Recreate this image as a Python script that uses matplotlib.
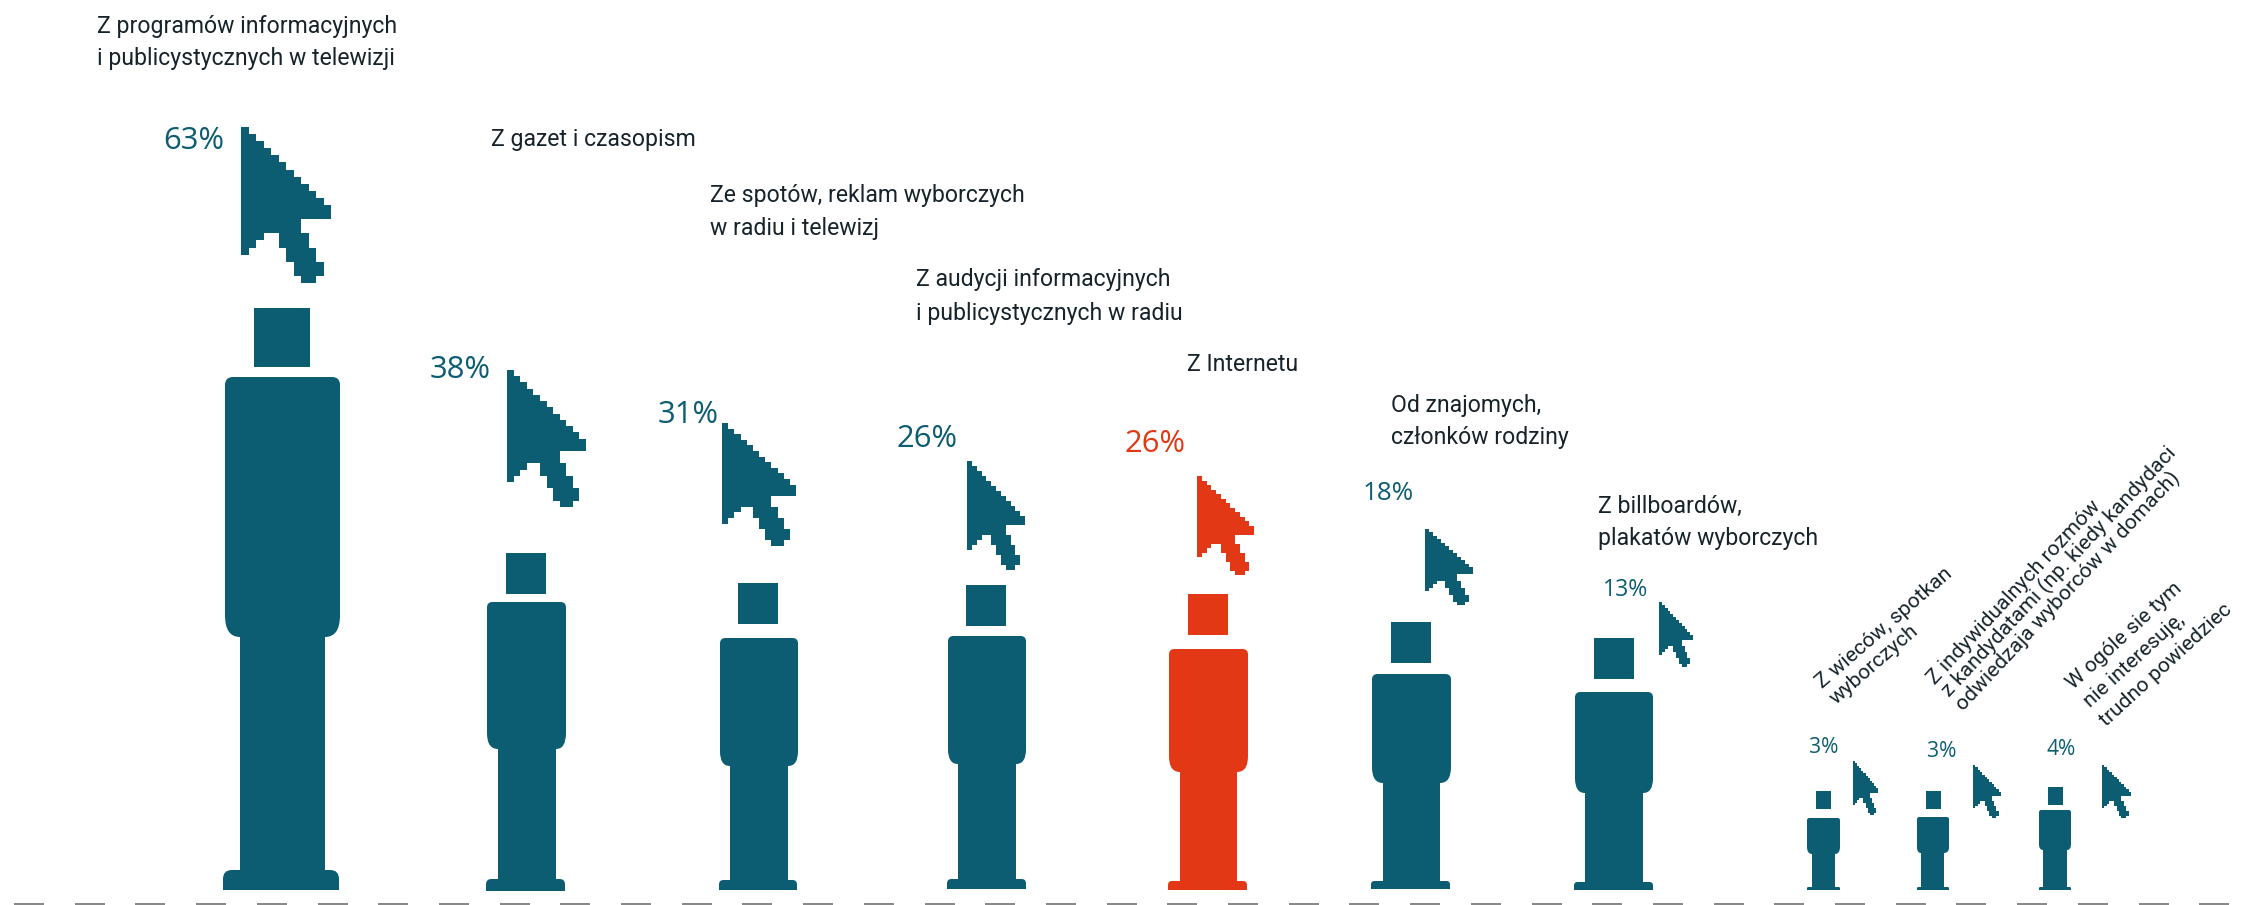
import numpy as np
import matplotlib
matplotlib.use("Agg")
import matplotlib.pyplot as plt
from matplotlib.path import Path
from matplotlib.patches import PathPatch, Rectangle

BLUE = "#0c5c72"
RED = "#e23815"
INK = "#16232b"

# wartosci z wykresu
sources = [
    "Z programów informacyjnych\ni publicystycznych w telewizji",
    "Z gazet i czasopism",
    "Ze spotów, reklam wyborczych\nw radiu i telewizj",
    "Z audycji informacyjnych\ni publicystycznych w radiu",
    "Z Internetu",
    "Od znajomych,\nczłonków rodziny",
    "Z billboardów,\nplakatów wyborczych",
    "Z wieców, spotkan\nwyborczych",
    "Z indywidualnych rozmów\nz kandydatami (np. kiedy kandydaci\nodwiedzaja wyborców w domach)",
    "W ogóle sie tym\nnie interesuję,\ntrudno powiedziec",
]
values = [63, 38, 31, 26, 26, 18, 13, 3, 3, 4]

# uklad sylwetek, w pikselach obrazka
head_x = [(254, 310), (506, 546), (738, 778), (966, 1006), (1188, 1228), (1391, 1431), (1594, 1634), (1816, 1831), (1926, 1941), (2048, 2063)]
head_y = [(308, 367), (553, 594), (583, 624), (585, 626), (594, 635), (622, 663), (638, 679), (791, 809), (791, 809), (787, 805)]
torso_x = [(225, 340), (487, 566), (720, 798), (948, 1026), (1169, 1248), (1372, 1451), (1575, 1653), (1807, 1840), (1917, 1949), (2039, 2071)]
torso_y = [(377, 637), (602, 749), (638, 766), (636, 764), (649, 772), (674, 783), (692, 793), (818, 854), (817, 853), (810, 850)]
leg_x = [(240, 325), (498, 556), (730, 788), (958, 1016), (1180, 1237), (1383, 1440), (1585, 1643), (1812, 1835), (1921, 1944), (2043, 2067)]
foot_x = [(223, 339), (486, 565), (719, 797), (947, 1026), (1168, 1247), (1371, 1450), (1574, 1653), (1807, 1840), (1917, 1949), (2039, 2071)]
foot_y = [(870, 890), (879, 891), (880, 890), (879, 889), (881, 890), (881, 889), (882, 890), (887, 890), (887, 890), (887, 890)]
cursor_x = [(241, 331), (507, 586), (722, 796), (967, 1025), (1197, 1254), (1425, 1473), (1659, 1693), (1853, 1878), (1973, 2001), (2102, 2131)]
cursor_y = [(127, 283), (370, 507), (423, 546), (461, 570), (476, 575), (529, 605), (602, 667), (761, 815), (765, 818), (765, 818)]

# etykiety procentow: srodek x, srodek y, rozmiar w px
pct_x = [194, 460, 688, 927, 1155, 1388, 1626, 1824, 1942, 2061]
pct_y = [141, 370, 415, 439, 444, 493, 590, 747, 751, 749]
pct_size = [31, 31, 31, 31, 31, 26, 23, 21, 21, 21]

# podpisy: poczatek pierwszej linii, kat, odstep linii, rozmiar w px
label_x = [97, 491, 710, 916, 1187, 1391, 1598, 1822, 1935, 2073]
label_y = [33, 146, 202, 286, 371, 412, 513, 689, 685, 690]
label_rot = [0, 0, 0, 0, 0, 0, 0, 41, 47, 42.5]
label_gap = [32, 32, 33, 34, 32, 32, 32, 21, 19.5, 25]
label_size = [23, 23, 23, 23, 23, 23, 23, 21, 21.2, 21]

highlight = 4  # Internet

# kursor na siatce 12 x 22
cursor_u = [0, 1, 1, 2, 2, 3, 3, 4, 4, 5, 5, 6, 6, 7, 7, 8, 8, 9, 9, 10, 10, 11, 11, 12, 12, 8, 8, 9, 9, 10, 10, 11, 11, 10, 10, 8, 8, 7, 7, 6, 6, 5, 5, 3, 3, 2, 2, 1, 1, 0, 0]
cursor_v = [0, 0, 1, 1, 2, 2, 3, 3, 4, 4, 5, 5, 6, 6, 7, 7, 8, 8, 9, 9, 10, 10, 11, 11, 13, 13, 15, 15, 17, 17, 19, 19, 21, 21, 22, 22, 21, 21, 19, 19, 17, 17, 15, 15, 16, 16, 17, 17, 18, 18, 0]


def body_path(i):
    x0, x1 = torso_x[i]
    y0, y1 = torso_y[i]
    lx0, lx1 = leg_x[i]
    fx0, fx1 = foot_x[i]
    fy0, fy1 = foot_y[i]
    rt = (x1 - x0) * 0.07
    rf = (fy1 - fy0) * 0.45
    rbx = lx0 - x0
    rby = rbx * 1.45
    v = [(x0 + rt, y0), (x1 - rt, y0), (x1, y0), (x1, y0 + rt),
         (x1, y1 - rby), (x1, y1), (lx1, y1),
         (lx1, fy0), (fx1 - rf, fy0), (fx1, fy0), (fx1, fy0 + rf),
         (fx1, fy1), (fx0, fy1), (fx0, fy0 + rf), (fx0, fy0), (fx0 + rf, fy0),
         (lx0, fy0), (lx0, y1), (x0 + rbx, y1), (x0, y1), (x0, y1 - rby),
         (x0, y0 + rt), (x0, y0), (x0 + rt, y0), (x0 + rt, y0)]
    c = [Path.MOVETO, Path.LINETO, Path.CURVE3, Path.CURVE3,
         Path.LINETO, Path.CURVE3, Path.CURVE3,
         Path.LINETO, Path.LINETO, Path.CURVE3, Path.CURVE3,
         Path.LINETO, Path.LINETO, Path.LINETO, Path.CURVE3, Path.CURVE3,
         Path.LINETO, Path.LINETO, Path.LINETO, Path.CURVE3, Path.CURVE3,
         Path.LINETO, Path.CURVE3, Path.CURVE3, Path.CLOSEPOLY]
    return Path(v, c)


def cursor_path(i):
    x0, x1 = cursor_x[i]
    y0, y1 = cursor_y[i]
    xs = x0 + np.array(cursor_u) / 12 * (x1 - x0)
    ys = y0 + np.array(cursor_v) / 22 * (y1 - y0)
    return Path(np.column_stack([xs, ys]), closed=False)


fig = plt.figure(figsize=(22.51, 9.05), dpi=100)
ax = fig.add_axes([0, 0, 1, 1])
ax.set_xlim(0, 2251)
ax.set_ylim(905, 0)
ax.axis("off")

for i in range(len(values)):
    col = RED if i == highlight else BLUE
    ax.add_patch(PathPatch(body_path(i), fc=col, ec="none"))
    ax.add_patch(PathPatch(cursor_path(i), fc=col, ec="none"))
    ax.add_patch(Rectangle((head_x[i][0], head_y[i][0]), head_x[i][1] - head_x[i][0],
                           head_y[i][1] - head_y[i][0], fc=col, ec="none"))
    ax.text(pct_x[i], pct_y[i], "%d%%" % values[i], color=col, ha="center", va="center",
            fontsize=pct_size[i] * 0.72, family=["Open Sans", "DejaVu Sans"])

    # kazda linia podpisu osobno, zeby trzymac kat i odstep
    a = np.radians(label_rot[i])
    for n, line in enumerate(sources[i].split("\n")):
        ax.text(label_x[i] + n * label_gap[i] * np.sin(a), label_y[i] + n * label_gap[i] * np.cos(a),
                line, color=INK, ha="left", va="baseline", rotation=label_rot[i],
                rotation_mode="anchor", fontsize=label_size[i] * 0.72,
                family=["Roboto", "DejaVu Sans"])

# przerywana linia na dole
dash_start = np.arange(14, 2251, 60.7)
ax.hlines(np.full(len(dash_start), 904), dash_start, dash_start + 30, color="#666666", lw=1.1)

fig.savefig("out.png", dpi=100, facecolor="white")
